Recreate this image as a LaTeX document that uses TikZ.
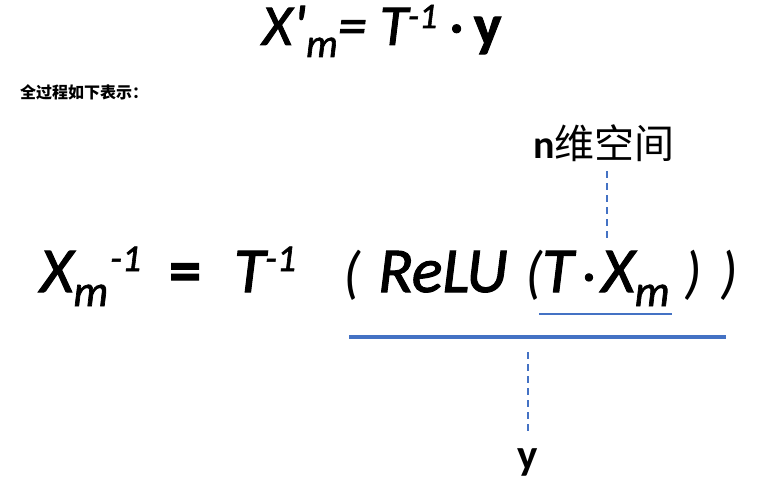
\documentclass[tikz,border=0pt]{standalone}
\usepackage{fontspec}
\setmainfont{Carlito}
\newfontfamily\semi{Carlito}[FakeBold=1.6]
\newfontfamily\cjk{Noto Sans CJK SC}
\usetikzlibrary{calc,positioning}
\definecolor{lineblue}{RGB}{68,114,196}
% raised / lowered indices: #1 shift, #2 size, #3 text
\newcommand{\hiidx}[3]{\raisebox{#1}{\fontsize{#2}{#2}\selectfont #3}}
\newcommand{\loidx}[3]{\raisebox{-#1}{\fontsize{#2}{#2}\selectfont #3}}

\begin{document}
\begin{tikzpicture}[x=1pt,y=-1pt]
  \tikzset{
    txt/.style={anchor=base west,inner sep=0pt},
    big/.style={txt,font=\fontsize{64}{64}\selectfont\semi\itshape},
    paren/.style={txt,font=\fontsize{58}{58}\selectfont\itshape},
    guide/.style={lineblue,line width=1.5pt,dash pattern=on 7pt off 5pt},
  }
  \useasboundingbox (0,0) rectangle (781,492);
  % top line
  \node[txt,font=\fontsize{58}{58}\selectfont\semi] (topeq) at (262,45)
    {\itshape X\hspace{1pt}\textquotesingle\loidx{12pt}{40}{m}= T\hiidx{17pt}{36}{-1}\upshape\hspace{12pt}·\hspace{10pt}\bfseries y};
  \node[txt,font=\fontsize{16}{16}\selectfont\cjk\bfseries] (note) at (20,99) {全过程如下表示：};
  % main formula
  \node[big] (lhs) at (40,292)
    {X\loidx{14pt}{44}{m}\hiidx{21pt}{38}{\hspace{2pt}-1}\hspace{28pt}\upshape\textbf{=}\itshape\hspace{33pt}T\hiidx{21pt}{38}{-1}};
  \node[paren] (lpar) at (343,292) {(};
  \node[big] (relu) at (378,292) {ReLU};
  \node[paren] (lparin) at (525,292) {(};
  \node[big] (tx) at (542,292)
    {T\hspace{9pt}\upshape\fontsize{52}{52}\selectfont·\fontsize{64}{64}\selectfont\itshape\hspace{6pt}X\loidx{14pt}{44}{m}};
  \node[paren] (rparin) at (684,292) {)};
  \node[paren] (rpar) at (720,292) {)};
  % labels
  \node[font=\fontsize{40}{40}\selectfont] (space) at (604,143) {\textbf{n}\cjk 维空间};
  \node[font=\fontsize{43}{43}\selectfont\bfseries] (yout) at (528,462) {y};
  % lines
  \draw[lineblue,line width=1.2pt] ($(tx.base west)+(-3,22)$) -- ($(tx.base east)+(2,22)$);
  \draw[lineblue,line width=4pt] ($(lpar.base west)+(6,45)$) coordinate (ba) -- ($(rpar.base east)+(-12,45)$) coordinate (bb);
  \coordinate (txtop) at (607,242);
  \coordinate (bartap) at (528,352);
  \draw[guide] (space.south) ++(3,6) -- (txtop);
  \draw[guide,shorten >=12pt] (bartap) -- (yout.north);
\end{tikzpicture}
\end{document}
